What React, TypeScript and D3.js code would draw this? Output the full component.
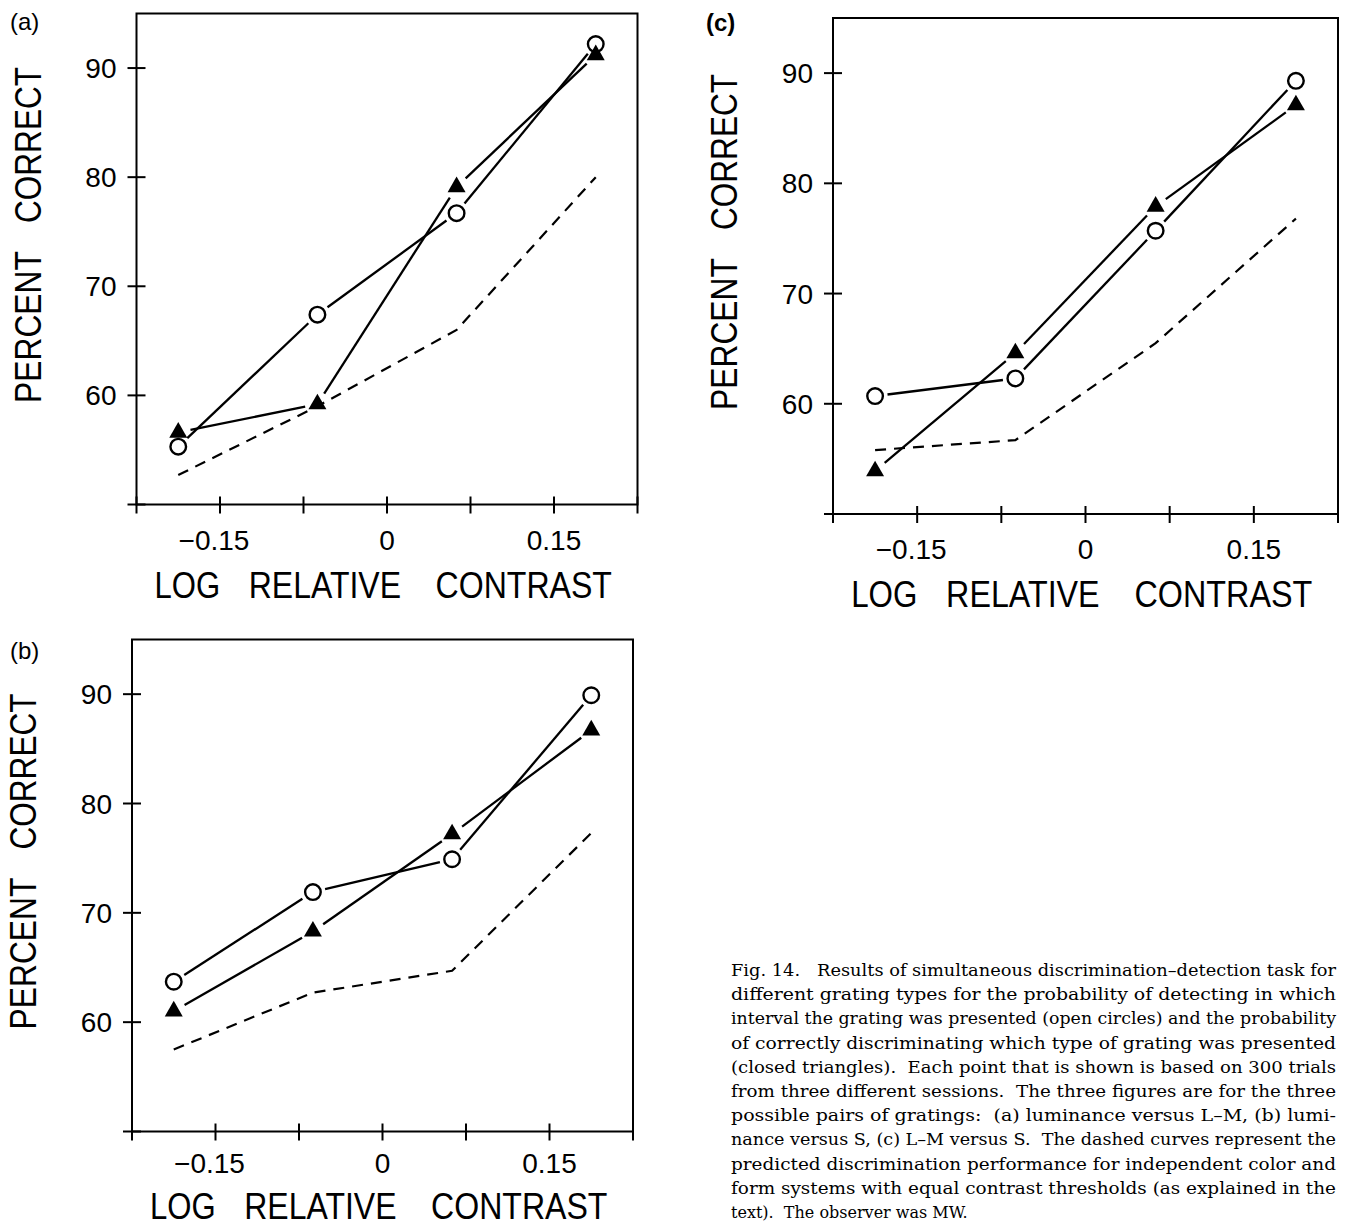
import React, { useRef, useEffect } from 'react';
import * as d3 from 'd3';

// log relative contrast of the four test levels
const xValues: number[] = [-0.1875, -0.0625, 0.0625, 0.1875];

// percent correct
const detectA: number[] = [55.3, 67.4, 76.7, 92.2];
const discrimA: number[] = [56.6, 59.2, 79.1, 91.2];
const predictA: number[] = [52.7, 59.0, 66.0, 80.0];

const detectB: number[] = [63.7, 71.9, 74.9, 89.9];
const discrimB: number[] = [61.0, 68.3, 77.2, 86.7];
const predictB: number[] = [57.5, 62.7, 64.7, 77.3];

const detectC: number[] = [60.7, 62.3, 75.7, 89.3];
const discrimC: number[] = [53.9, 64.6, 77.9, 87.1];
const predictC: number[] = [55.8, 56.7, 65.5, 76.8];

const xTicks: number[] = [-0.225, -0.15, -0.075, 0, 0.075, 0.15, 0.225];
const xTickLabels: number[] = [-0.15, 0, 0.15];
const yTicks: number[] = [50, 60, 70, 80, 90];
const yTickLabels: number[] = [60, 70, 80, 90];

const captionLines: string[] = [
    'Fig. 14.   Results of simultaneous discrimination\u2013detection task for',
    'different grating types for the probability of detecting in which',
    'interval the grating was presented (open circles) and the probability',
    'of correctly discriminating which type of grating was presented',
    '(closed triangles).  Each point that is shown is based on 300 trials',
    'from three different sessions.  The three figures are for the three',
    'possible pairs of gratings:  (a) luminance versus L\u2013M, (b) lumi-',
    'nance versus S, (c) L\u2013M versus S.  The dashed curves represent the',
    'predicted discrimination performance for independent color and',
    'form systems with equal contrast thresholds (as explained in the',
    'text).  The observer was MW.'
];

interface Panel {
    label: string;
    left: number;
    top: number;
    width: number;
    height: number;
    labelX: number;
    labelY: number;
    labelBold: boolean;
    tickLabelDy: number;
    titleDy: number;
    detect: number[];
    discrim: number[];
    predict: number[];
}

const panels: Panel[] = [
    { label: '(a)', left: 136.5, top: 13.5, width: 501, height: 491, labelX: 10, labelY: 30, labelBold: false,
        tickLabelDy: 45, titleDy: 93, detect: detectA, discrim: discrimA, predict: predictA },
    { label: '(b)', left: 132, top: 639.5, width: 501, height: 492, labelX: 10, labelY: 659, labelBold: false,
        tickLabelDy: 41, titleDy: 87, detect: detectB, discrim: discrimB, predict: predictB },
    { label: '(c)', left: 833, top: 18, width: 505, height: 496, labelX: 706, labelY: 31, labelBold: true,
        tickLabelDy: 45, titleDy: 93, detect: detectC, discrim: discrimC, predict: predictC }
];

const SANS = '"Liberation Sans", Arial, Helvetica, sans-serif';

const App: React.FC = () => {
    const svgRef = useRef<SVGSVGElement | null>(null);

    useEffect(() => {
        const svg = d3.select(svgRef.current);
        svg.selectAll('*').remove();

        svg.append('rect')
            .attr('width', 1349)
            .attr('height', 1227)
            .attr('fill', '#fff');

        panels.forEach(p => drawPanel(p));

        function drawPanel(p: Panel): void {
            const g = svg.append('g');
            const bottom = p.top + p.height;
            const x = d3.scaleLinear().domain([-0.225, 0.225]).range([p.left, p.left + p.width]);
            const y = d3.scaleLinear().domain([50, 95]).range([bottom, p.top]);

            // frame
            g.append('rect')
                .attr('x', p.left)
                .attr('y', p.top)
                .attr('width', p.width)
                .attr('height', p.height)
                .attr('fill', 'none')
                .attr('stroke', '#000')
                .attr('stroke-width', 2);

            // ticks crossing the axes
            g.selectAll('line.xtick')
                .data(xTicks)
                .enter().append('line')
                .attr('class', 'xtick')
                .attr('x1', d => x(d)).attr('x2', d => x(d))
                .attr('y1', bottom - 8).attr('y2', bottom + 9)
                .attr('stroke', '#000').attr('stroke-width', 2);

            g.selectAll('line.ytick')
                .data(yTicks)
                .enter().append('line')
                .attr('class', 'ytick')
                .attr('x1', p.left - 9).attr('x2', p.left + 9)
                .attr('y1', d => y(d)).attr('y2', d => y(d))
                .attr('stroke', '#000').attr('stroke-width', 2);

            g.selectAll('text.xlab')
                .data(xTickLabels)
                .enter().append('text')
                .attr('class', 'xlab')
                .attr('x', d => x(d) + (d < 0 ? -6 : 0))
                .attr('y', bottom + p.tickLabelDy)
                .attr('text-anchor', 'middle')
                .style('font-family', SANS)
                .style('font-size', '28px')
                .text(d => d === 0 ? '0' : (d < 0 ? '\u2212' : '') + Math.abs(d).toFixed(2));

            g.selectAll('text.ylab')
                .data(yTickLabels)
                .enter().append('text')
                .attr('class', 'ylab')
                .attr('x', p.left - 20)
                .attr('y', d => y(d))
                .attr('dy', '0.36em')
                .attr('text-anchor', 'end')
                .style('font-family', SANS)
                .style('font-size', '28px')
                .text(d => String(d));

            // axis titles, narrow lettering
            const w = p.width;
            const xTitle: [string, number, number][] = [
                ['LOG', 0.036, 0.131],
                ['RELATIVE', 0.224, 0.304],
                ['CONTRAST', 0.597, 0.352]
            ];
            xTitle.forEach(([word, start, len]) => {
                g.append('text')
                    .attr('x', p.left + start * w)
                    .attr('y', bottom + p.titleDy)
                    .attr('textLength', len * w)
                    .attr('lengthAdjust', 'spacingAndGlyphs')
                    .style('font-family', SANS)
                    .style('font-size', '37px')
                    .text(word);
            });

            const yt = g.append('g')
                .attr('transform', `translate(${p.left - 96},${p.top + p.height / 2 - 24}) rotate(-90)`);
            yt.append('text')
                .attr('x', -168).attr('y', 0)
                .attr('textLength', 152)
                .attr('lengthAdjust', 'spacingAndGlyphs')
                .style('font-family', SANS)
                .style('font-size', '37px')
                .text('PERCENT');
            yt.append('text')
                .attr('x', 12).attr('y', 0)
                .attr('textLength', 156)
                .attr('lengthAdjust', 'spacingAndGlyphs')
                .style('font-family', SANS)
                .style('font-size', '37px')
                .text('CORRECT');

            g.append('text')
                .attr('x', p.labelX)
                .attr('y', p.labelY)
                .style('font-family', SANS)
                .style('font-size', '24px')
                .style('font-weight', p.labelBold ? 'bold' : 'normal')
                .text(p.label);

            // predicted discrimination (dashed)
            const line = d3.line<number>()
                .x((_, i) => x(xValues[i]))
                .y(d => y(d));

            g.append('path')
                .attr('d', line(p.predict))
                .attr('fill', 'none')
                .attr('stroke', '#000')
                .attr('stroke-width', 2.2)
                .attr('stroke-dasharray', '11,8');

            // solid segments stop short of the symbols
            const gap = 12.5;
            [p.detect, p.discrim].forEach(series => {
                for (let i = 0; i < series.length - 1; i++) {
                    const x0 = x(xValues[i]), y0 = y(series[i]);
                    const x1 = x(xValues[i + 1]), y1 = y(series[i + 1]);
                    const len = Math.hypot(x1 - x0, y1 - y0);
                    const ux = (x1 - x0) / len, uy = (y1 - y0) / len;
                    g.append('line')
                        .attr('x1', x0 + ux * gap).attr('y1', y0 + uy * gap)
                        .attr('x2', x1 - ux * gap).attr('y2', y1 - uy * gap)
                        .attr('stroke', '#000')
                        .attr('stroke-width', 2.3);
                }
            });

            g.selectAll('circle.det')
                .data(p.detect)
                .enter().append('circle')
                .attr('class', 'det')
                .attr('cx', (_, i) => x(xValues[i]))
                .attr('cy', d => y(d))
                .attr('r', 7.8)
                .attr('fill', '#fff')
                .attr('stroke', '#000')
                .attr('stroke-width', 2.4);

            const tri = d3.symbol().type(d3.symbolTriangle).size(140);
            g.selectAll('path.dis')
                .data(p.discrim)
                .enter().append('path')
                .attr('class', 'dis')
                .attr('d', tri() as string)
                .attr('transform', (d, i) => `translate(${x(xValues[i])},${y(d)})`)
                .attr('fill', '#000');
        }

        // caption, justified
        const capLeft = 731;
        const capRight = 1336;
        svg.selectAll('text.cap')
            .data(captionLines)
            .enter().append('text')
            .attr('class', 'cap')
            .attr('x', capLeft)
            .attr('y', (_, i) => 976 + i * 24.2)
            .attr('textLength', (_, i) => i < captionLines.length - 1 ? capRight - capLeft : null)
            .attr('lengthAdjust', 'spacingAndGlyphs')
            .style('white-space', 'pre')
            .style('font-family', '"DejaVu Serif", "Liberation Serif", serif')
            .style('font-size', '16px')
            .text(d => d);
    }, []);

    return (
        <div style={{ position: 'absolute', left: 0, top: 0 }}>
            <svg ref={svgRef} width={1349} height={1227} style={{ display: 'block' }} />
        </div>
    );
};

export default App;
